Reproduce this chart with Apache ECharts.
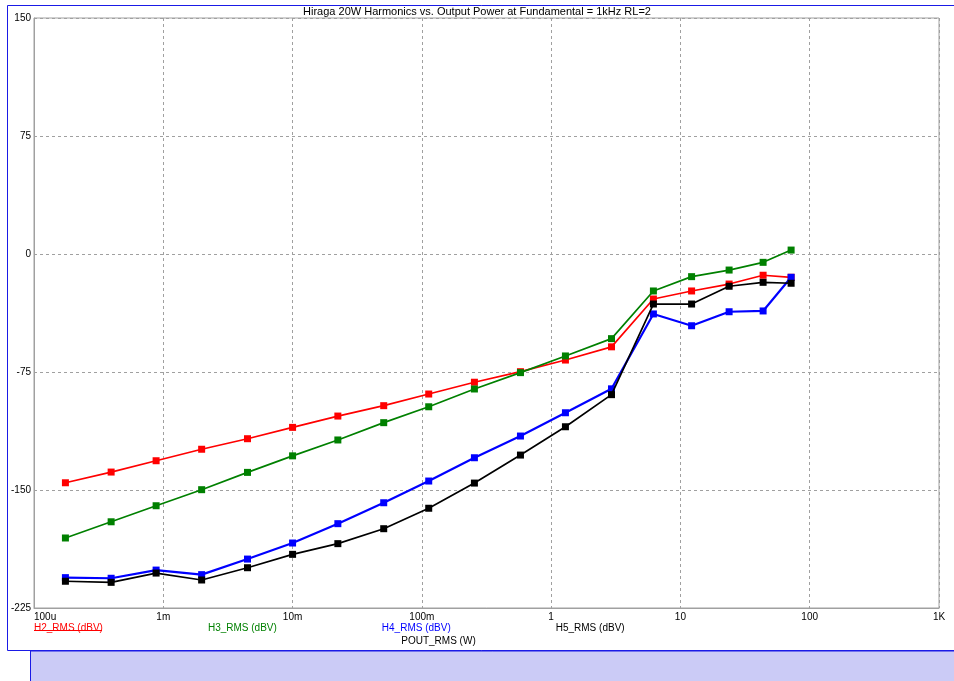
<!DOCTYPE html>
<html>
<head>
<meta charset="utf-8">
<title>Hiraga 20W Harmonics</title>
<script src="https://cdn.jsdelivr.net/npm/echarts@6/dist/echarts.min.js"></script>
<style>
  html, body { margin: 0; padding: 0; background: #ffffff; }
  #chart { width: 954px; height: 681px; }
</style>
</head>
<body>
<div id="chart"></div>
<script>
// Output power sweep (W) at the fundamental, 1 kHz
const poutW = [
  1.75e-4, 3.95e-4, 8.8e-4, 1.98e-3, 4.48e-3, 0.0100, 0.0224, 0.0507, 0.113,
  0.255, 0.579, 1.29, 2.93, 6.18, 12.2, 23.8, 43.6, 71.8
];

// Harmonic levels (dBV) at each power step
const h2 = [-145.4, -138.6, -131.4, -124.1, -117.4, -110.2, -103.0, -96.4, -89.0,
            -81.5, -74.8, -67.4, -59.0, -28.6, -23.5, -19.1, -13.5, -14.8];
const h3 = [-180.5, -170.2, -160.0, -149.8, -138.8, -128.3, -118.2, -107.2, -97.1,
            -85.8, -75.4, -64.8, -53.8, -23.5, -14.4, -10.2, -5.3, 2.5];
const h4 = [-205.7, -206.1, -200.9, -203.8, -193.9, -183.7, -171.4, -158.1, -144.3,
            -129.5, -115.7, -100.9, -85.7, -38.1, -45.6, -36.7, -36.2, -14.8];
const h5 = [-208.0, -208.7, -202.8, -207.2, -199.4, -190.9, -184.1, -174.6, -161.6,
            -145.6, -127.8, -109.8, -89.4, -31.8, -31.8, -20.5, -18.0, -18.6];

const seriesNames = ['H2_RMS (dBV)', 'H3_RMS (dBV)', 'H4_RMS (dBV)', 'H5_RMS (dBV)'];
const seriesColors = ['#ff0000', '#008000', '#0000ff', '#000000'];

// Log-axis tick labels by decade
const xTickValues = [1e-4, 1e-3, 1e-2, 1e-1, 1, 10, 100, 1000];
const xTickLabels = ['100u', '1m', '10m', '100m', '1', '10', '100', '1K'];

const titleText = 'Hiraga 20W Harmonics vs. Output Power at Fundamental = 1kHz RL=2';
const xAxisName = 'POUT_RMS (W)';

const FONT = '"Liberation Sans", Arial, sans-serif';

function pairs(ys) {
  return ys.map((y, i) => [poutW[i], y]);
}

function tickLabel(v) {
  for (let i = 0; i < xTickValues.length; i++) {
    if (Math.abs(Math.log10(v) - Math.log10(xTickValues[i])) < 1e-6) return xTickLabels[i];
  }
  return '';
}

const chart = echarts.init(document.getElementById('chart'), null, { renderer: 'canvas' });

const allY = [h2, h3, h4, h5];

chart.setOption({
  animation: false,
  backgroundColor: '#ffffff',
  textStyle: { fontFamily: FONT },
  graphic: [
    // window frame and the status strip beneath it
    { type: 'rect', z: -10, silent: true,
      shape: { x: 7.5, y: 5.5, width: 960, height: 645 },
      style: { fill: '#ffffff', stroke: '#1a1ae6', lineWidth: 1 } },
    { type: 'rect', z: -10, silent: true,
      shape: { x: 30.5, y: 651, width: 940, height: 40 },
      style: { fill: '#cbcbf6', stroke: '#1a1ae6', lineWidth: 1 } },
    // underline for the active trace name
    { type: 'line', silent: true,
      shape: { x1: 34, y1: 630.5, x2: 102, y2: 630.5 },
      style: { stroke: '#ff0000', lineWidth: 1 } }
  ],
  title: {
    text: titleText,
    left: 'center',
    top: 6,
    padding: 0,
    textStyle: { fontFamily: FONT, fontSize: 11, fontWeight: 'normal', color: '#000000' }
  },
  legend: {
    left: 24,
    top: 618,
    icon: 'rect',
    itemWidth: 0,
    itemHeight: 0,
    itemGap: 100,
    selectedMode: false,
    data: seriesNames.map((n, i) => ({
      name: n,
      textStyle: { color: seriesColors[i], fontFamily: FONT, fontSize: 10 }
    }))
  },
  grid: {
    left: 34,
    right: 15,
    top: 18,
    bottom: 73,
    show: true,
    borderColor: '#a0a0a0',
    borderWidth: 1,
    backgroundColor: 'transparent'
  },
  xAxis: {
    type: 'log',
    logBase: 10,
    min: 1e-4,
    max: 1e3,
    name: xAxisName,
    nameLocation: 'middle',
    nameGap: 28,
    nameTextStyle: { fontFamily: FONT, fontSize: 10, color: '#000000', padding: [0, 96, 0, 0] },
    axisLine: { show: true, onZero: false, lineStyle: { color: '#a0a0a0', width: 1 } },
    axisTick: { show: false },
    axisLabel: {
      fontFamily: FONT, fontSize: 10, color: '#000000', margin: 4,
      formatter: tickLabel,
      alignMinLabel: 'left'
    },
    splitLine: { show: true, lineStyle: { color: '#a0a0a0', type: [3, 3], width: 1 } },
    minorTick: { show: false },
    minorSplitLine: { show: false }
  },
  yAxis: {
    type: 'value',
    min: -225,
    max: 150,
    interval: 75,
    axisLine: { show: true, onZero: false, lineStyle: { color: '#a0a0a0', width: 1 } },
    axisTick: { show: false },
    axisLabel: { fontFamily: FONT, fontSize: 10, color: '#000000', margin: 3 },
    splitLine: { show: true, lineStyle: { color: '#a0a0a0', type: [3, 3], width: 1 } }
  },
  series: seriesNames.map((n, i) => ({
    name: n,
    type: 'line',
    data: pairs(allY[i]),
    symbol: 'rect',
    symbolSize: 7,
    showAllSymbol: true,
    color: seriesColors[i],
    lineStyle: { color: seriesColors[i], width: i === 2 ? 2.2 : 1.7 },
    itemStyle: { color: seriesColors[i], borderWidth: 0 },
    emphasis: { disabled: true },
    z: 2 + i
  }))
});
</script>
</body>
</html>
